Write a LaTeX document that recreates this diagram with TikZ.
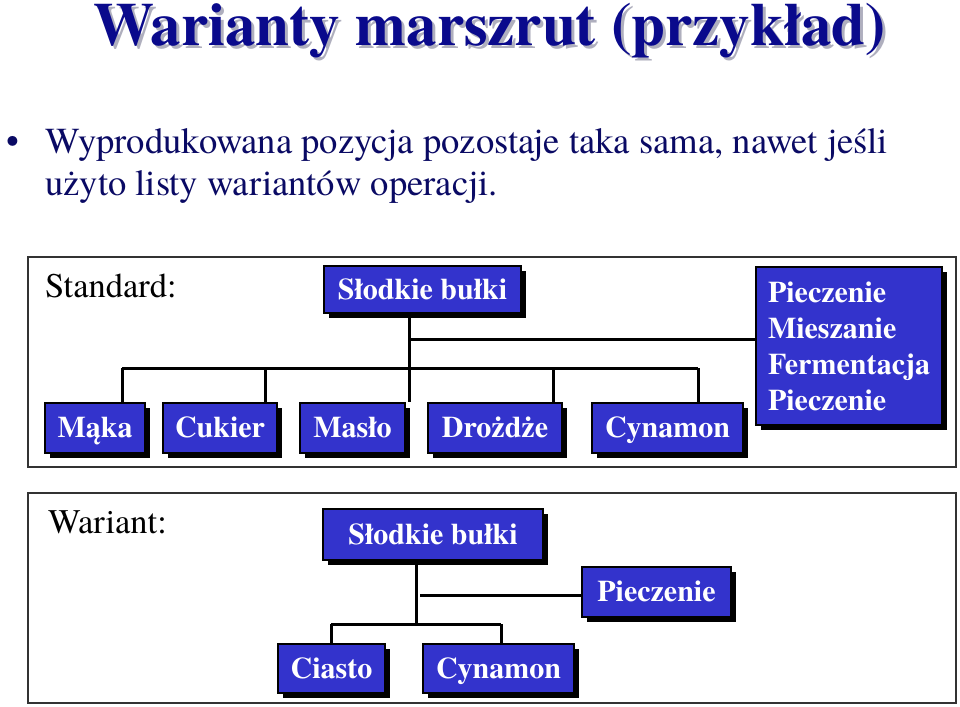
\documentclass[tikz,border=0pt]{standalone}
\usepackage{fontspec}
\setmainfont{texgyretermes}[Extension=.otf, UprightFont=*-regular, BoldFont=*-bold, ItalicFont=*-italic, BoldItalicFont=*-bolditalic]
\usetikzlibrary{shadows}
\definecolor{boxblue}{RGB}{51,51,204}
\definecolor{titlenavy}{RGB}{10,10,140}
\definecolor{textnavy}{RGB}{10,10,100}
\definecolor{titleshadow}{RGB}{175,175,190}
\tikzset{
  blk/.style={draw=black, line width=1.2pt, fill=boxblue, text=white,
    font=\fontsize{30}{36}\selectfont\bfseries, inner sep=0pt,
    text height=21pt, text depth=2pt,
    drop shadow={shadow xshift=5pt, shadow yshift=-5pt, opacity=1, fill=black}},
  conn/.style={line width=3pt, black},
  frame/.style={draw=black!80, line width=1.5pt},
  lbl/.style={anchor=base west, inner sep=0pt, font=\fontsize{34.5}{40}\selectfont},
  titletxt/.style={anchor=base, inner sep=0pt, font=\fontsize{61}{72}\selectfont\bfseries},
  bodytxt/.style={anchor=base west, inner sep=0pt, text=textnavy, font=\fontsize{36.6}{42}\selectfont},
}
\begin{document}
\begin{tikzpicture}[x=1pt,y=-1pt]
\useasboundingbox (0,0) rectangle (960,706);
\fill[white] (0,0) rectangle (960,706);
% title
\node[titletxt, text=titleshadow] (titlesh) at (493,49) {Warianty marszrut (przykład)};
\node[titletxt, text=titlenavy] (title) at (490,46) {Warianty marszrut (przykład)};
% bullet text
\node[bodytxt] (bul) at (6,153) {•};
\node[bodytxt] (line1) at (45,153) {Wyprodukowana pozycja pozostaje taka sama, nawet jeśli};
\node[bodytxt] (line2) at (45,195) {użyto listy wariantów operacji.};
% frames
\draw[frame] (28,257) rectangle (956,467);
\draw[frame] (28,493) rectangle (956,703);
\node[lbl] (std) at (45,297) {Standard:};
\node[lbl] (war) at (48,533) {Wariant:};
% standard nodes
\node[blk, minimum width=197, minimum height=47] (sb1) at (422.5,289.5) {Słodkie bułki};
\node[blk, minimum width=100, minimum height=50] (maka) at (95,428) {Mąka};
\node[blk, minimum width=114, minimum height=50] (cukier) at (220,428) {Cukier};
\node[blk, minimum width=105, minimum height=50] (maslo) at (352.5,428) {Masło};
\node[blk, minimum width=134, minimum height=50] (drozdze) at (495,428) {Drożdże};
\node[blk, minimum width=151, minimum height=50] (cyn1) at (667.5,428) {Cynamon};
\node[blk, text height=, text depth=, minimum width=186, minimum height=158, text width=162, align=left, inner xsep=12,
  font=\fontsize{30}{36}\selectfont\bfseries]
  (plist) at (849,346) {Pieczenie\\Mieszanie\\Fermentacja\\Pieczenie};
% standard connectors
\coordinate (h1) at (409,339);
\draw[conn] (sb1.south -| h1) -- (maslo.north -| h1);
\draw[conn] (h1) -- (h1 -| plist.west);
\coordinate (busL) at (122,368);
\coordinate (busB) at (265,368);
\coordinate (busD) at (553,368);
\coordinate (busR) at (698,368);
\draw[conn] (busL) -- (busR);
\draw[conn] (busL) -- (busL |- maka.north);
\draw[conn] (busB) -- (busB |- cukier.north);
\draw[conn] (busD) -- (busD |- drozdze.north);
\draw[conn] (busR) -- (busR |- cyn1.north);
% variant nodes
\node[blk, minimum width=220, minimum height=51] (sb2) at (433,534.5) {Słodkie bułki};
\node[blk, minimum width=149, minimum height=50] (piecz2) at (656.5,592) {Pieczenie};
\node[blk, minimum width=107, minimum height=49] (ciasto) at (331.5,668.5) {Ciasto};
\node[blk, minimum width=151, minimum height=49] (cyn2) at (498.5,668.5) {Cynamon};
% variant connectors
\coordinate (v2) at (416,624);
\coordinate (h2) at (420,595);
\coordinate (bus2L) at (331,624);
\coordinate (bus2R) at (501,624);
\draw[conn] (sb2.south -| v2) -- (v2);
\draw[conn] (h2) -- (h2 -| piecz2.west);
\draw[conn] (bus2L) -- (bus2R);
\draw[conn] (bus2L) -- (bus2L |- ciasto.north);
\draw[conn] (bus2R) -- (bus2R |- cyn2.north);
\end{tikzpicture}
\end{document}
